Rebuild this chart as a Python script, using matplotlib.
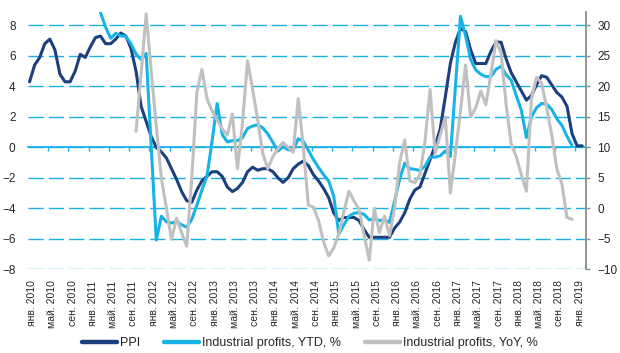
import numpy as np
import matplotlib.pyplot as plt

plt.rcParams['font.family'] = ['Liberation Sans', 'DejaVu Sans']

# monthly data, month 0 = Jan 2010
ppi = [4.3, 5.4, 5.9, 6.8, 7.1, 6.4, 4.8, 4.3, 4.3, 5.0, 6.1, 5.9,
       6.6, 7.2, 7.3, 6.8, 6.8, 7.1, 7.5, 7.3, 6.5, 5.0, 2.7, 1.7,
       0.7, 0.0, -0.3, -0.7, -1.4, -2.1, -2.9, -3.5, -3.6, -2.8, -2.2, -1.9,
       -1.6, -1.6, -1.9, -2.6, -2.9, -2.7, -2.3, -1.6, -1.3, -1.5, -1.4, -1.4,
       -1.6, -2.0, -2.3, -2.0, -1.4, -1.1, -0.9, -1.2, -1.8, -2.2, -2.7, -3.3,
       -4.3, -4.8, -4.6, -4.6, -4.6, -4.8, -5.4, -5.9, -5.9, -5.9, -5.9, -5.9,
       -5.3, -4.9, -4.3, -3.4, -2.8, -2.6, -1.7, -0.8, 0.1, 1.2, 3.3, 5.5,
       6.9, 7.8, 7.6, 6.4, 5.5, 5.5, 5.5, 6.3, 6.9, 6.9, 5.8, 4.9,
       4.3, 3.7, 3.1, 3.4, 4.1, 4.7, 4.6, 4.1, 3.6, 3.3, 2.7, 0.9,
       0.1, 0.1]

ytd_start = 14  # Mar 2011
ytd = [32.1, 29.7, 27.9, 28.7, 28.3, 28.2, 27.0, 25.3, 24.4, 25.4,
       10.0, -5.2, -1.3, -2.2, -2.4, -2.2, -2.7, -3.1, -1.8, 0.5, 3.0, 5.3,
       11.0, 17.2, 12.1, 10.9, 11.1, 11.1, 11.6, 13.1, 13.5, 13.7, 13.2, 12.2,
       10.8, 9.4, 10.1, 9.6, 9.6, 11.4, 11.0, 9.5, 8.0, 6.7, 5.5, 4.5,
       2.0, -4.2, -2.7, -1.3, -0.8, -0.7, -1.0, -1.9, -1.7, -2.0, -1.9, -2.3,
       1.2, 4.8, 7.4, 6.5, 6.4, 6.2, 6.9, 8.4, 8.4, 8.6, 9.4, 8.5,
       20.0, 31.5, 28.3, 24.4, 22.7, 22.0, 21.6, 21.6, 22.8, 23.3, 21.9, 21.0,
       18.5, 16.1, 11.6, 15.0, 16.5, 17.2, 17.1, 16.2, 14.7, 13.6, 11.8, 10.3]

yoy_start = 21  # Oct 2011
yoy = [12.6, 22.0, 31.9,
       22.5, 13.5, 5.0, 0.0, -5.1, -1.6, -4.0, -6.2, 5.0, 19.0, 22.8, 18.0,
       16.0, 14.5, 13.0, 12.0, 15.5, 6.5, 14.0, 24.2, 19.5, 14.5, 9.0, 6.5,
       8.5, 9.8, 10.8, 10.0, 9.2, 18.0, 10.0, 0.5, 0.2, -2.0, -5.5, -7.8,
       -6.5, -4.2, -0.5, 2.8, 1.2, -0.2, -4.5, -8.5, 0.0, -4.0, -1.3, -4.5,
       0.0, 7.5, 11.2, 4.5, 4.2, 5.5, 11.0, 19.5, 9.0, 12.0, 15.0, 2.5,
       9.0, 16.0, 23.5, 15.0, 16.5, 19.2, 17.0, 22.0, 27.5, 25.5, 17.0, 10.5,
       8.5, 5.5, 2.8, 18.0, 21.5, 20.5, 16.5, 12.0, 6.5, 4.0, -1.5, -1.8]

month_names = ['янв.', 'май.', 'сен.']
tick_months = np.arange(0, 109, 4)
tick_labels = [month_names[(m % 12) // 4] + ' ' + str(2010 + m // 12) for m in tick_months]

navy = '#1c3f7d'
cyan = '#17b3e6'
grey = '#c0c0c0'
grid_c = '#1ab2e4'
text_c = '#262626'

fig = plt.figure(figsize=(6.2, 3.53), dpi=100)
ax = fig.add_axes([0.0452, 0.2371, 0.9, 0.7298])
ax2 = ax.twinx()

ax.plot(np.arange(len(ppi)), ppi, color=navy, lw=2.2, solid_joinstyle='round',
        solid_capstyle='round', label='PPI')
ax2.plot(np.arange(ytd_start, ytd_start + len(ytd)), ytd, color=cyan, lw=2.2,
         solid_joinstyle='round', solid_capstyle='round', label='Industrial profits, YTD, %')
ax2.plot(np.arange(yoy_start, yoy_start + len(yoy)), yoy, color=grey, lw=2.2,
         solid_joinstyle='round', solid_capstyle='round', label='Industrial profits, YoY, %')

ax.set_xlim(-0.3, 109.76)
ax.set_ylim(-8, 8.9)
ax2.set_ylim(-10, 32.25)

ax.set_yticks(np.arange(-8, 9, 2))
ax.yaxis.grid(True, color=grid_c, lw=1.0, linestyle=(0, (11, 3.6)))
ax.set_axisbelow(True)
ax.tick_params(axis='y', length=0, pad=9, labelsize=8.5, labelcolor=text_c)

ax.set_xticks(tick_months + 0.5)
ax.set_xticklabels(tick_labels, rotation=90)
ax.tick_params(axis='x', length=0, pad=8, labelsize=7.5, labelcolor=text_c)

for s in ['top', 'bottom', 'left', 'right']:
    ax.spines[s].set_visible(False)
for s in ['top', 'bottom', 'left']:
    ax2.spines[s].set_visible(False)
ax2.spines['right'].set_color('#8c8c8c')
ax2.spines['right'].set_linewidth(1.3)
ax2.set_yticks(np.arange(-10, 31, 5))
ax2.tick_params(axis='y', length=3, width=1.0, color='#8c8c8c', pad=5,
                labelsize=8.5, labelcolor=text_c)

# zero line with ticks
zero_frac = 8 / 16.9
sec = ax.secondary_xaxis(zero_frac)
sec.spines['bottom'].set_color(grid_c)
sec.spines['bottom'].set_linewidth(1.3)
sec.set_xticks(tick_months - 0.35)
sec.set_xticklabels([''] * len(tick_months))
sec.tick_params(axis='x', direction='out', length=3, width=1.0, color=grid_c)

h1, l1 = ax.get_legend_handles_labels()
h2, l2 = ax2.get_legend_handles_labels()
leg = fig.legend(h1 + h2, l1 + l2, loc='center', bbox_to_anchor=(0.5, 0.0275), ncol=3,
                 frameon=False, fontsize=9, handlelength=2.8, handletextpad=0.25,
                 columnspacing=1.9, labelcolor=text_c)
for h in leg.legend_handles:
    h.set_linewidth(3.2)

fig.savefig('out.png', dpi=100)
